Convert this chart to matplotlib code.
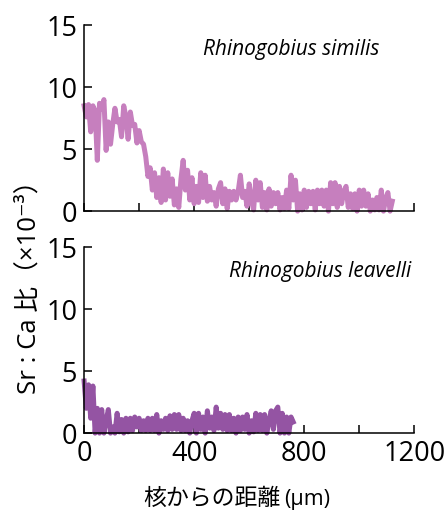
import matplotlib
matplotlib.use('Agg')
import matplotlib.pyplot as plt
import numpy as np

plt.rcParams['font.family'] = ['Open Sans', 'Noto Sans CJK JP', 'DejaVu Sans']

# sample spacing along the otolith (µm)
step_um = 8

similis_sr_ca = [
    8.5, 7.6, 8.6, 6.4, 8.5, 8.1, 4.1, 8.7, 8.2, 9.0,
    4.9, 7.2, 5.4, 7.0, 8.3, 7.2, 7.4, 6.0, 8.5, 7.6,
    5.8, 8.0, 6.9, 7.0, 5.5, 6.5, 5.6, 5.4, 4.4, 2.8,
    3.5, 1.7, 3.1, 1.1, 2.7, 0.7, 3.4, 0.9, 3.1, 1.2,
    2.6, 0.5, 1.8, 0.3, 2.6, 4.1, 1.7, 3.3, 0.9, 2.7,
    0.6, 2.0, 0.7, 3.1, 1.1, 2.9, 0.8, 2.0, 0.9, 1.5,
    0.4, 1.8, 2.3, 0.6, 1.8, 0.2, 1.6, 0.9, 1.6, 0.9,
    1.6, 2.9, 1.1, 1.6, 0.4, 2.2, 0.9, 0.1, 2.5, 0.9,
    2.3, 0.3, 1.5, 0.1, 1.8, 0.4, 1.5, 0.6, 1.5, 0.1,
    1.1, 0.2, 1.7, 0.2, 2.9, 0.9, 2.5, 0.0, 1.4, 0.1,
    1.7, 0.3, 1.6, 0.6, 1.6, 0.1, 1.7, 0.6, 1.7, 0.4,
    1.7, 0.0, 2.3, 0.6, 2.3, 0.3, 2.0, 0.6, 1.6, 2.0,
    0.3, 1.4, 0.2, 1.4, 0.0, 1.7, 0.4, 1.7, 0.4, 1.4,
    0.0, 0.9, 0.1, 1.1, 0.1, 1.7, 0.0, 1.0, 1.5, 0.0,
    0.8,
]

leavelli_sr_ca = [
    4.2, 2.0, 3.9, 1.2, 3.8, 0.0, 2.0, 0.0, 1.9, 0.0,
    1.0, 1.9, 0.0, 0.5, 0.0, 1.6, 0.1, 1.1, 0.0, 1.2,
    0.1, 1.2, 0.2, 1.3, 0.5, 1.2, 0.2, 1.0, 0.2, 1.2,
    0.2, 1.2, 0.2, 1.5, 0.0, 1.0, 0.3, 1.2, 0.2, 1.4,
    0.3, 1.5, 0.3, 1.5, 0.2, 1.2, 0.2, 1.0, 0.0, 1.0,
    1.6, 0.0, 1.6, 0.3, 1.3, 0.0, 1.8, 0.4, 1.3, 0.2,
    2.1, 0.4, 1.6, 0.3, 1.5, 0.2, 1.5, 0.2, 1.2, 0.0,
    1.3, 0.2, 1.3, 0.3, 1.5, 0.0, 1.0, 0.1, 1.6, 0.2,
    1.5, 0.2, 1.5, 0.0, 1.0, 1.8, 0.3, 1.8, 2.1, 0.0,
    1.6, 0.0, 1.3, 0.0, 1.3, 0.9,
]

panels = [
    ('Rhinogobius similis', similis_sr_ca, '#c67fbe', 0.895),
    ('Rhinogobius leavelli', leavelli_sr_ca, '#9454a3', 0.99),
]

fig = plt.figure(figsize=(4.45, 5.15), dpi=100)
ax_top = fig.add_axes([0.189, 0.590, 0.742, 0.361])
ax_bot = fig.add_axes([0.189, 0.159, 0.742, 0.361])

for ax, (name, vals, color, name_x) in zip([ax_top, ax_bot], panels):
    dist = np.arange(len(vals)) * step_um
    ax.plot(dist, vals, color=color, lw=3.6, solid_joinstyle='round',
            clip_on=False)
    ax.set_xlim(0, 1200)
    ax.set_ylim(0, 15)
    ax.set_yticks([0, 5, 10, 15])
    ax.set_xticks([0, 400, 800, 1200])
    ax.set_xticks([200, 600, 1000], minor=True)
    for s in ['top', 'right']:
        ax.spines[s].set_visible(False)
    for s in ['left', 'bottom']:
        ax.spines[s].set_linewidth(1.1)
    ax.tick_params(which='both', direction='in', length=5.5, width=1.1,
                   labelsize=19.5, pad=5)
    ax.text(name_x, 0.87, name, transform=ax.transAxes, ha='right', va='center',
            fontsize=15, style='italic')

ax_top.tick_params(labelbottom=False)

# x label: Japanese part, then a smaller unit right after it
xl = fig.text(0.321, 0.02, '核からの距離', ha='left', va='baseline', fontsize=16.5,
              family=['Noto Sans CJK JP'])
fig.canvas.draw()
bb = xl.get_window_extent().transformed(fig.transFigure.inverted())
fig.text(bb.x1 + 0.01, 0.02, '(μm)', ha='left', va='baseline', fontsize=15.5)

fig.text(0.066, 0.455, 'Sr : Ca 比（×10⁻³）', rotation=90, ha='center', va='center',
         fontsize=18.5)

fig.savefig('out.png', dpi=100)
